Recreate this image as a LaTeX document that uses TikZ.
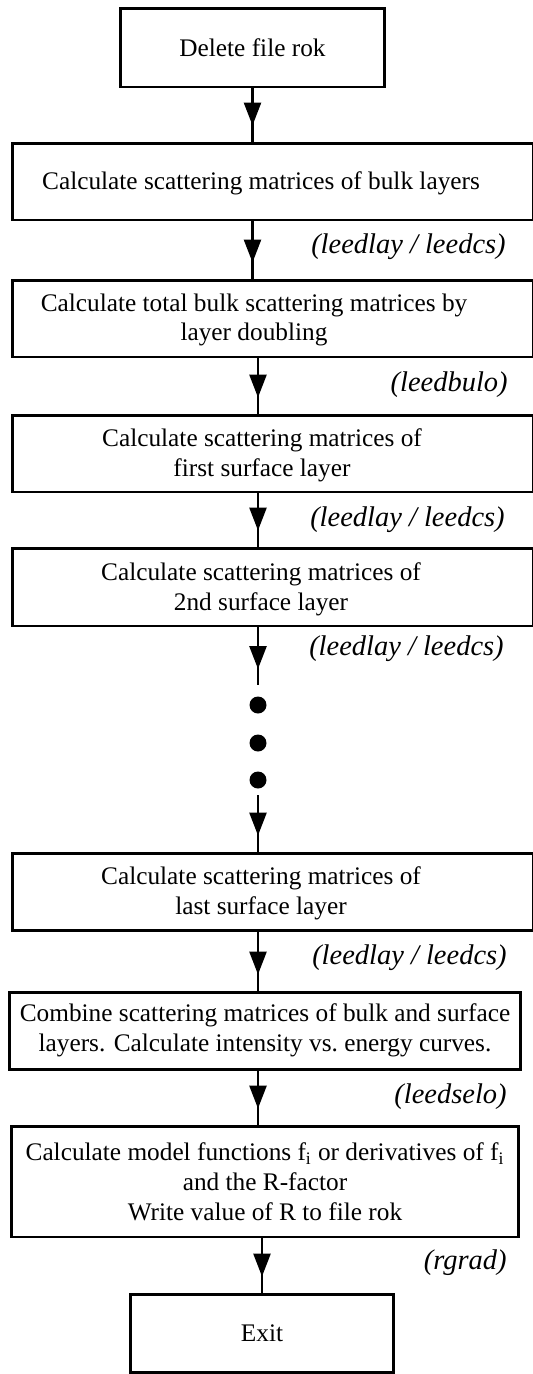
\documentclass[tikz,border=0pt]{standalone}
\usepackage{fontspec}
\setmainfont{Liberation Serif}
\usetikzlibrary{arrows.meta,decorations.markings}

\tikzset{
  stepbox/.style={draw, line width=1.7pt, inner sep=0pt, align=center,
    font=\fontsize{14.4}{17}\selectfont},
  widebox/.style={stepbox, minimum width=10.44cm, minimum height=1.54cm},
  steptext/.style={align=center, inner sep=0pt, font=\fontsize{14.4}{17}\selectfont},
  routine/.style={anchor=east, inner sep=0pt, font=\fontsize{16.2}{19}\selectfont\itshape},
  dot/.style={circle, fill, inner sep=0pt, minimum size=0.34cm},
  flow/.style={line width=1.5pt, postaction={decorate},
    decoration={markings, mark=at position -0.32cm with
      {\arrow{Triangle[width=0.34cm,length=0.46cm]}}}}
}

\begin{document}
\begin{tikzpicture}[x=0.02cm, y=-0.02cm]
  \useasboundingbox (0,0) rectangle (532,1374);

  % --- start ---
  \node[stepbox, minimum width=5.3cm, minimum height=1.58cm] (del) at (252.5,47.5) {Delete file rok};

  % --- bulk layers (boxes run out on the right) ---
  \node[widebox] (bulk) at (273,181.5) {};
  \node[steptext] (bulk-t) at (261,183) {Calculate scattering matrices of bulk layers};

  \node[widebox] (total) at (273,318.5) {};
  \node[steptext] (total-t) at (254,320) {Calculate total bulk scattering matrices by\\layer doubling};

  % --- surface layers ---
  \node[widebox] (first) at (273,453.5) {};
  \node[steptext] (first-t) at (262,455) {Calculate scattering matrices of\\first surface layer};

  \node[widebox, minimum height=1.56cm] (second) at (273,587) {};
  \node[steptext] (second-t) at (261,589) {Calculate scattering matrices of\\2nd surface layer};

  % --- dots for the layers in between ---
  \node[dot] (dot1) at (258,705) {};
  \node[dot] (dot2) at (258,743) {};
  \node[dot] (dot3) at (258,780) {};
  \coordinate (dots-in) at (258,685);
  \coordinate (dots-out) at (258,795);

  \node[widebox] (last) at (273,891.5) {};
  \node[steptext] (last-t) at (261,893) {Calculate scattering matrices of\\last surface layer};

  % --- intensities and R-factor ---
  \node[stepbox, minimum width=10.24cm, minimum height=1.54cm] (combine) at (265,1030.5)
    {Combine scattering matrices of bulk and surface\\layers. Calculate intensity vs.\ energy curves.};

  \node[stepbox, minimum width=10.16cm, minimum height=2.22cm] (model) at (265,1181.5)
    {Calculate model functions f\textsubscript{i} or derivatives of f\textsubscript{i}\\and the R-factor\\Write value of R to file rok};

  \node[stepbox, minimum width=5.28cm, minimum height=1.56cm] (exit) at (262,1333) {Exit};

  % --- routine names ---
  \node[routine] (r1) at (506,247) {(leedlay / leedcs)};
  \node[routine] (r2) at (508,385) {(leedbulo)};
  \node[routine] (r3) at (505,520) {(leedlay / leedcs)};
  \node[routine] (r4) at (504,649) {(leedlay / leedcs)};
  \node[routine] (r5) at (507,958) {(leedlay / leedcs)};
  \node[routine] (r6) at (507,1097) {(leedselo)};
  \node[routine] (r7) at (507,1263) {(rgrad)};

  % --- connectors ---
  \draw[flow] (del) -- (del |- bulk.north);
  \draw[flow] (del |- bulk.south) -- (del |- total.north);
  \draw[flow] (dot1 |- total.south) -- (dot1 |- first.north);
  \draw[flow] (dot1 |- first.south) -- (dot1 |- second.north);
  \draw[flow] (dot1 |- second.south) -- (dots-in);
  \draw[flow] (dots-out) -- (dot3 |- last.north);
  \draw[flow] (dot1 |- last.south) -- (dot1 |- combine.north);
  \draw[flow] (dot1 |- combine.south) -- (dot1 |- model.north);
  \draw[flow] (exit |- model.south) -- (exit);

\end{tikzpicture}
\end{document}
